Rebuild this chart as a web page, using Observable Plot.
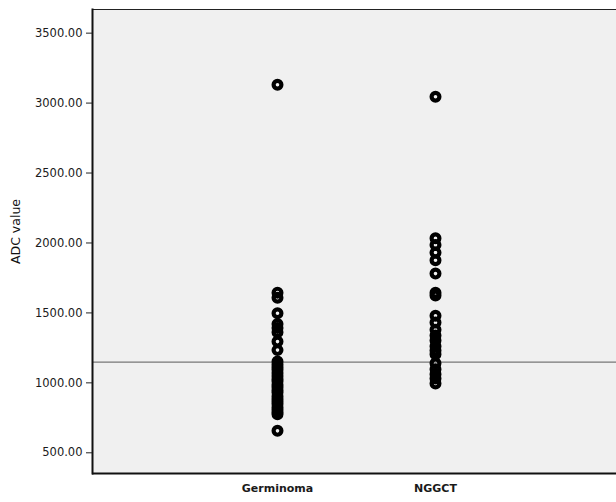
<!DOCTYPE html>
<html><head><meta charset="utf-8">
<script src="https://cdn.jsdelivr.net/npm/d3@7"></script>
<script src="https://cdn.jsdelivr.net/npm/@observablehq/plot@0.6"></script>
<style>body{margin:0;background:#fff}</style>
</head><body><div id="chart"></div>
<script>
const categories = ["Germinoma", "NGGCT"];
const germinomaValues = [3131, 1645, 1609, 1498, 1421, 1393, 1362, 1295, 1234, 1152, 1131, 1112, 1094, 1071, 1049, 1028, 1012, 986, 968, 947, 931, 905, 884, 866, 848, 826, 808, 789, 775, 657];
const nggctValues = [3045, 2034, 1986, 1931, 1876, 1781, 1645, 1625, 1479, 1431, 1379, 1338, 1302, 1262, 1231, 1204, 1140, 1098, 1062, 1031, 995];
const yTicks = [500, 1000, 1500, 2000, 2500, 3000, 3500];
const yDomain = [352, 3669];
const cutoff = 1148;
const yLabel = "ADC value";

const data = [
  ...germinomaValues.map(v => ({group: categories[0], value: v})),
  ...nggctValues.map(v => ({group: categories[1], value: v}))
];

const chart = Plot.plot({
  width: 616, height: 502,
  marginLeft: 92, marginRight: 0, marginTop: 9, marginBottom: 29,
  style: {fontFamily: "'DejaVu Sans', sans-serif", fontSize: "11.5px", color: "#1a1a1a", background: "#fff"},
  x: {type: "point", domain: categories, padding: 1.15, align: 0.505, label: null},
  y: {domain: yDomain, label: null},
  marks: [
    Plot.frame({fill: "#f0f0f0", stroke: "none"}),
    Plot.ruleY([yDomain[1]], {stroke: "#222", strokeWidth: 1}),
    Plot.ruleY([cutoff], {stroke: "#777", strokeWidth: 1.2}),
    Plot.dot(data, {x: "group", y: "value", r: 3.9, stroke: "#000", strokeWidth: 4.2, fill: "none"}),
    Plot.frame({anchor: "left", stroke: "#111", strokeWidth: 2}),
    Plot.ruleY([yDomain[0]], {stroke: "#111", strokeWidth: 2}),
    Plot.axisY({ticks: yTicks, tickFormat: d => d.toFixed(2), tickSize: 6, tickPadding: 4, label: null, stroke: "#222"}),
    Plot.axisX({tickSize: 0, tickPadding: 11, fontWeight: "bold", fontSize: 11, label: null}),
    Plot.text([yLabel], {frameAnchor: "left", textAnchor: "middle", dx: -77, dy: -10, rotate: -90, fontSize: 12.5, fill: "#111"})
  ]
});
document.getElementById("chart").appendChild(chart);
</script>
</body></html>
